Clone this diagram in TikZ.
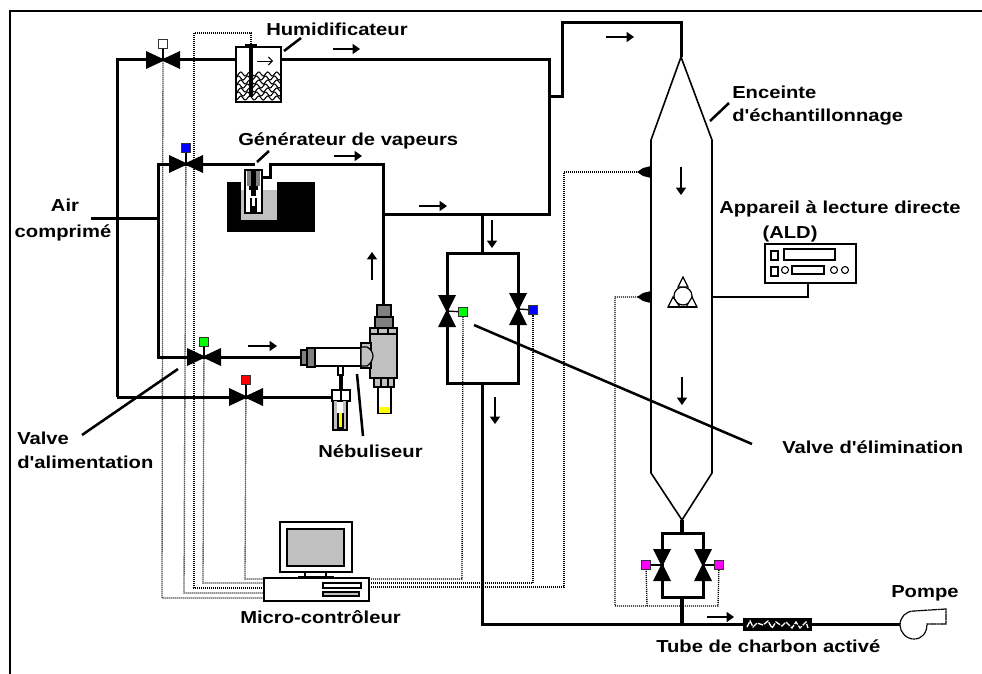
\documentclass[tikz,border=0pt]{standalone}
\usepackage{fontspec}
\usetikzlibrary{arrows.meta}
\newfontfamily\labfont[FakeStretch=1.165]{Liberation Sans Bold}
\definecolor{cgrey}{HTML}{C0C0C0}
\definecolor{dgrey}{HTML}{808080}
\definecolor{vgreen}{HTML}{00FF00}
\definecolor{vblue}{HTML}{0000FF}
\definecolor{vred}{HTML}{FF0000}
\definecolor{vpink}{HTML}{FF00FF}
\definecolor{vyel}{HTML}{FFFF00}
\tikzset{
  pipe/.style={line width=2.25pt,line join=miter},
  thin line/.style={line width=1pt},
  wall/.style={line width=1.2pt},
  ctrl/.style={line width=1pt,dash pattern=on 0.75pt off 0.75pt,draw=black},
  lead/.style={line width=1.9pt},
  flow/.style={line width=0.9pt,-{Triangle[length=5.5pt,width=7.5pt]}},
  sq/.style={draw=black!80,line width=0.8pt,minimum size=7pt,inner sep=0pt,outer sep=0pt},
  lab/.style={font=\labfont\fontsize{13}{15}\selectfont,inner sep=0pt,text=black},
  part/.style={draw=black,line width=0.9pt},
}
\newcommand{\hvalve}[1]{\fill[shift={(#1)}] (-17,-9) -- (-17,9) -- (0,1) -- (17,9) -- (17,-9) -- (0,-1) -- cycle;}
\newcommand{\vvalve}[1]{\fill[shift={(#1)}] (-9,-16) -- (9,-16) -- (1,0) -- (9,16) -- (-9,16) -- (-1,0) -- cycle;}
\newcommand{\vport}[1]{\fill[shift={(#1)}] (-14,0) -- (-8,-4) -- (0,-6) -- (0,6) -- (-8,4) -- cycle;}
\begin{document}
\begin{tikzpicture}[x=0.75pt,y=-0.75pt]
\useasboundingbox (0,0) rectangle (982,674);
% frame
\coordinate (fa) at (10,674); \coordinate (fb) at (10,11); \coordinate (fc) at (982,11);
\draw[line width=1.3pt] (fa) -- (fb) -- (fc);
% named points
\coordinate (vW) at (163,60);
\coordinate (vB) at (186,164);
\coordinate (vG) at (204,357);
\coordinate (vR) at (246,397);
\coordinate (vM1) at (447,311);
\coordinate (vM2) at (518,309);
\coordinate (vP1) at (662,565);
\coordinate (vP2) at (703,565);
\node[sq,fill=white] (sW) at (163,44) {};
\node[sq,fill=vblue] (sB) at (186,148) {};
\node[sq,fill=vgreen] (sG) at (204,342) {};
\node[sq,fill=vred] (sR) at (246,380) {};
\node[sq,fill=vgreen] (sM1) at (463,312) {};
\node[sq,fill=vblue] (sM2) at (533,310) {};
\node[sq,fill=vpink] (sP1) at (646,565) {};
\node[sq,fill=vpink] (sP2) at (719,565) {};
% control lines
\coordinate (c1) at (162,598); \coordinate (c1b) at (264,598);
\coordinate (c2) at (184,593); \coordinate (c2b) at (264,593);
\coordinate (c3a) at (251,44); \coordinate (c3b) at (251,33); \coordinate (c3c) at (194,33);
\coordinate (c3d) at (194,588); \coordinate (c3e) at (264,588);
\coordinate (c4) at (203,583); \coordinate (c4b) at (264,583);
\coordinate (c5) at (245,579); \coordinate (c5b) at (264,579);
\coordinate (d1a) at (369,579); \coordinate (d1b) at (462,579);
\coordinate (d2a) at (369,583); \coordinate (d2b) at (533,583);
\coordinate (d3a) at (369,587); \coordinate (d3b) at (564,587); \coordinate (d3c) at (564,172); \coordinate (d3d) at (640,172);
\coordinate (e1) at (640,297); \coordinate (e2) at (615,297); \coordinate (e3) at (615,606); \coordinate (e4) at (718,606); \coordinate (e5) at (647,606);
\draw[ctrl] (sW) -- (c1) -- (c1b);
\draw[ctrl] (sB) -- (c2) -- (c2b);
\draw[ctrl] (c3a) -- (c3b) -- (c3c) -- (c3d) -- (c3e);
\draw[ctrl] (sG) -- (c4) -- (c4b);
\draw[ctrl] (sR) -- (c5) -- (c5b);
\draw[ctrl] (d1a) -- (d1b) -- (sM1);
\draw[ctrl] (d2a) -- (d2b) -- (sM2);
\draw[ctrl] (d3a) -- (d3b) -- (d3c) -- (d3d);
\draw[ctrl] (e1) -- (e2) -- (e3) -- (e4) -- (sP2);
\draw[ctrl] (e5) -- (sP1);
% pipes
\coordinate (p1) at (117,60); \coordinate (p2) at (117,397); \coordinate (hL) at (236,60); \coordinate (hR) at (281,60);
\coordinate (p3) at (549,60); \coordinate (p4) at (549,214); \coordinate (p5) at (383,214);
\coordinate (p6) at (549,97); \coordinate (p7) at (562,97); \coordinate (p8) at (562,23); \coordinate (p9) at (681,23); \coordinate (top) at (681,57);
\coordinate (a1) at (91,218); \coordinate (a2) at (158,218);
\coordinate (b1) at (158,164); \coordinate (b2) at (158,357);
\coordinate (g1) at (255,164); \coordinate (g2) at (262,177); \coordinate (g3) at (270,177); \coordinate (g4) at (270,164); \coordinate (g5) at (383,164); \coordinate (g6) at (383,305);
\coordinate (n1) at (303,357); \coordinate (n2) at (333,397);
\coordinate (m0) at (482,214); \coordinate (m1) at (482,253); \coordinate (m2) at (447,253); \coordinate (m3) at (518,253); \coordinate (m4) at (447,383); \coordinate (m5) at (518,383); \coordinate (m6) at (482,383);
\coordinate (m7) at (482,624);
\coordinate (t1) at (743,624); \coordinate (t2) at (812,624); \coordinate (pu) at (900,624);
\coordinate (j) at (682,624);
\draw[pipe] (p2) -- (p1) -- (hL);
\draw[pipe] (hR) -- (p3) -- (p4) -- (p5);
\draw[pipe] (p6) -- (p7) -- (p8) -- (p9) -- (top);
\draw[pipe] (a1) -- (a2);
\draw[pipe] (g1) -- (b1) -- (b2) -- (n1);
\draw[pipe] (g2) -- (g3) -- (g4) -- (g5) -- (g6);
\draw[pipe] (p2) -- (n2);
\draw[pipe] (m0) -- (m1);
\draw[pipe] (m6) -- (m7) -- (t1);
\draw[pipe] (m2) rectangle (m5);
\draw[pipe] (t2) -- (pu);
\coordinate (q1) at (682,520); \coordinate (q2) at (682,533); \coordinate (q3) at (662,533); \coordinate (q4) at (703,597); \coordinate (q5) at (682,597);
\draw[line width=3pt] (q1) -- (q2);
\draw[pipe] (q3) rectangle (q4);
\draw[line width=3.2pt] (q5) -- (j);
% valves
\hvalve{vW} \hvalve{vB} \hvalve{vG} \hvalve{vR}
\vvalve{vM1} \vvalve{vM2} \vvalve{vP1} \vvalve{vP2}
\draw[thin line] (sW) -- (vW); \draw[thin line] (sB) -- (vB); \draw[thin line] (sG) -- (vG); \draw[thin line] (sR) -- (vR);
\draw[thin line] (sM1) -- (vM1); \draw[thin line] (sM2) -- (vM2); \draw[thin line] (sP1) -- (vP1); \draw[thin line] (sP2) -- (vP2);
% humidifier
\draw[part,fill=white] (236,47) rectangle (281,102);
\foreach \yy/\ph in {74/0,78/90,82/0,86/90,90/0,94/90,98/0}{
  \draw[line width=0.8pt,black] plot[domain=237:280,samples=50] (\x,{\yy+2*sin(40*\x+\ph)});
}
\draw[line width=3pt] (251,44) -- (251,97);
\draw[line width=1.5pt] (245,45) -- (257,45);
\draw[line width=0.7pt,-{Straight Barb[length=3pt,width=6pt]}] (257,61) -- (273,61);
% generator
\fill[black] (227,182) rectangle (315,232);
\fill[white] (241,182) rectangle (277,190);
\fill[cgrey] (241,190) rectangle (277,220);
\draw[part,fill=white] (245,170) rectangle (262,213);
\fill[dgrey] (247,171) rectangle (260,186);
\fill[black] (251,170) rectangle (256,196);
\fill[black] (249,186) rectangle (258,190);
\fill[black] (250,198) rectangle (252,212);
\fill[black] (255,198) rectangle (257,212);
\fill[black] (252,206) rectangle (255,212);
% nebuliser
\draw[part,fill=white] (315,348) rectangle (362,366);
\draw[part,fill=dgrey] (301,350) rectangle (308,365);
\draw[part,fill=dgrey] (307,348) rectangle (315,367);
\draw[part,fill=cgrey] (370,328) rectangle (397,378);
\draw[part,fill=dgrey] (377,305) rectangle (391,317);
\draw[part,fill=dgrey] (375,317) rectangle (393,328);
\draw[part,fill=cgrey] (370,328) rectangle (397,334);
\draw[part] (378,328) -- (378,334) (388,328) -- (388,334);
\draw[part,fill=cgrey] (361,343) rectangle (371,368);
\draw[part,fill=cgrey] (361,347) -- (367,347) .. controls (371,349) and (373,353) .. (373,356) .. controls (373,360) and (370,364) .. (367,366) -- (361,366) -- cycle;
\draw[part,fill=cgrey] (374,378) rectangle (394,387);
\draw[part] (381,378) -- (381,387) (388,378) -- (388,387);
\draw[part,fill=white] (378,387) rectangle (391,413);
\fill[vyel] (379,407) rectangle (390,412.5);
\draw[part,fill=white] (338,366) rectangle (343,375);
\draw[line width=3pt] (340.5,375) -- (340.5,390);
\draw[part,fill=white] (332,390) rectangle (350,401);
\draw[part] (341,390) -- (341,401);
\draw[part,fill=white] (333,401) rectangle (347,430);
\fill[cgrey] (334,401) rectangle (337,429);
\fill[cgrey] (343,401) rectangle (346,429);
\draw[line width=0.9pt,fill=vyel] (338,413) -- (338,428) -- (343,428) -- (343,413);
% computer
\draw[line width=1.1pt,fill=white] (280,522) rectangle (352,572);
\draw[line width=1.4pt,fill=cgrey] (287,529) rectangle (344,566);
\draw[line width=0.9pt] (305,572) -- (305,577) (326,572) -- (326,577);
\draw[line width=1.5pt] (298,577) -- (334,577);
\node[draw,line width=1.1pt,fill=white,minimum width=78.75pt,minimum height=17.25pt,inner sep=0pt] (pc) at (316.5,589.5) {};
\draw[line width=0.9pt] (323,583) rectangle (361,588);
\draw[line width=0.9pt,fill=cgrey] (323,592) rectangle (359,596);
% chamber
\coordinate (k1) at (651,140); \coordinate (k2) at (651,473); \coordinate (k3) at (682,520); \coordinate (k4) at (712,473); \coordinate (k5) at (712,140);
\draw[wall] (top) -- (k1) -- (k2) -- (k3) -- (k4) -- (k5) -- cycle;
\vport{651,172} \vport{651,297}
% sensor
\draw[line width=0.9pt] (683,296) circle[radius=9];
\draw[line width=0.9pt,fill=white] (683,277) -- (678,287) -- (688,287) -- cycle;
\draw[line width=0.9pt,fill=white] (668,307) -- (673,297) -- (680,307) -- cycle;
\draw[line width=0.9pt,fill=white] (697,307) -- (692,297) -- (686,307) -- cycle;
\draw[line width=0.9pt] (668,307) -- (697,307);
% ALD
\node[draw,line width=0.9pt,minimum width=68.25pt,minimum height=29.25pt,inner sep=0pt] (ald) at (810.5,263.5) {};
\coordinate (w1) at (712,297); \coordinate (w2) at (808,297); \coordinate (w3) at (808,283);
\draw[line width=0.9pt] (w1) -- (w2) -- (w3);
\draw[line width=0.9pt] (771,251) rectangle (778,260);
\draw[line width=0.9pt] (784,249) rectangle (835,260);
\draw[line width=0.9pt] (771,267) rectangle (778,276);
\draw[line width=0.9pt] (792,266) rectangle (824,274);
\draw[line width=0.8pt] (785,270) circle[radius=3.5];
\draw[line width=0.8pt] (834,270) circle[radius=3.5];
\draw[line width=0.8pt] (845,270) circle[radius=3.5];
% charcoal tube
\fill[black] (743,618) rectangle (812,631);
\draw[white,line width=1pt,dash pattern=on 4pt off 1pt] (747,627) -- (750,621) -- (753,627) -- (757,623) -- (763,625) -- (768,621) -- (772,628) -- (776,622) -- (782,626) -- (786,622) -- (792,628) -- (796,622) -- (800,628) -- (806,622) -- (808,628);
% pump
\draw[line width=0.9pt,dash pattern=on 2.2pt off 0.3pt] (914,611) -- (946,609) -- (946,624) -- (927,624) .. controls (927,633) and (922,639) .. (914,639) .. controls (906,639) and (900,632) .. (900,625) .. controls (900,617) and (906,611) .. (914,611);
% flow arrows
\draw[flow] (333,49) -- (360,49);
\draw[flow] (334,156) -- (362,156);
\draw[flow] (606,37) -- (634,37);
\draw[flow] (681,167) -- (681,195);
\draw[flow] (682,377) -- (682,405);
\draw[flow] (707,617) -- (734,617);
\draw[flow] (419,206) -- (447,206);
\draw[flow] (372,280) -- (372,252);
\draw[flow] (492,220) -- (492,248);
\draw[flow] (495,397) -- (495,424);
\draw[flow] (248,346) -- (277,346);
% labels
\node[lab,anchor=west] (humid) at (266,29) {Humidificateur};
\node[lab,anchor=west] (gen) at (238,141) {Générateur de vapeurs};
\node[lab,anchor=west] (enc1) at (732,92) {Enceinte};
\node[lab,anchor=west] (enc2) at (732,117) {d'échantillonnage};
\node[lab,anchor=west] (app) at (719,209) {Appareil à lecture directe};
\node[lab] (ald2) at (790,234) {(ALD)};
\node[lab] (air1) at (65,205) {Air};
\node[lab] (air2) at (63,233) {comprimé};
\node[lab,anchor=west] (val1) at (17,438) {Valve};
\node[lab,anchor=west] (val2) at (17,462) {d'alimentation};
\node[lab,anchor=west] (neb) at (318,451) {Nébuliseur};
\node[lab,anchor=west] (valel) at (782,447) {Valve d'élimination};
\node[lab,anchor=west] (micro) at (240,617) {Micro-contrôleur};
\node[lab,anchor=west] (tube) at (656,646) {Tube de charbon activé};
\node[lab,anchor=west] (pompe) at (891,593) {Pompe};
% leaders
\coordinate (l1a) at (284,51); \coordinate (l1b) at (301,38);
\coordinate (l2a) at (257,162); \coordinate (l2b) at (269,151);
\coordinate (l3a) at (710,121); \coordinate (l3b) at (729,103);
\coordinate (l4a) at (82,435); \coordinate (l4b) at (178,369);
\coordinate (l5a) at (357,374); \coordinate (l5b) at (363,436);
\coordinate (l6a) at (474,325); \coordinate (l6b) at (752,444);
\draw[lead] (l1a) -- (l1b); \draw[lead] (l2a) -- (l2b); \draw[lead] (l3a) -- (l3b);
\draw[lead] (l4a) -- (l4b); \draw[lead] (l5a) -- (l5b); \draw[lead] (l6a) -- (l6b);
\end{tikzpicture}
\end{document}
